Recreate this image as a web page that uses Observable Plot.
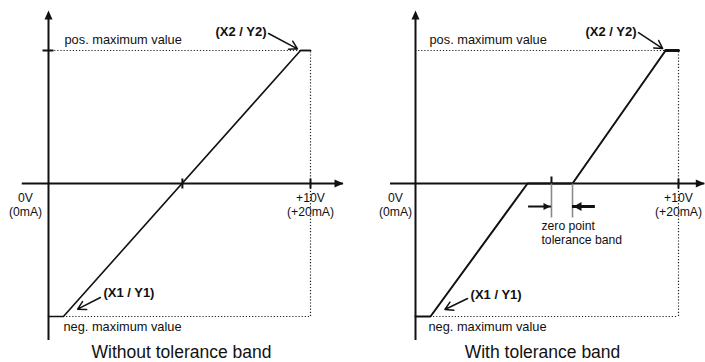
<!DOCTYPE html>
<html><head><meta charset="utf-8">
<script src="https://cdn.jsdelivr.net/npm/d3@7"></script>
<script src="https://cdn.jsdelivr.net/npm/@observablehq/plot@0.6"></script>
<style>
body{margin:0;background:#fff;}
#wrap{display:flex;width:705px;height:362px;overflow:hidden;}
#wrap svg{overflow:visible;display:block;}
</style></head><body><div id="wrap"></div>
<script>
// ---- data (x: input in V, 0..10 V; y: output, -1 = neg. max value, +1 = pos. max value)
const panelTitles = ["Without tolerance band", "With tolerance band"];
const curveWithoutX = [0, 0.57, 9.62, 10];
const curveWithoutY = [-1, -1, 1, 1];
const curveWithX = [0, 0.57, 4.26, 5.97, 9.51, 10];
const curveWithY = [-1, -1, 0, 0, 1, 1];
const zeroPointWithout = [5.11];
const toleranceBand = [5.17, 5.97];
const fullScale = [10];
const levelLabels = ["pos. maximum value", "neg. maximum value"];
const pointLabels = ["(X1 / Y1)", "(X2 / Y2)"];
const xEndLabels = ["0V\n(0mA)", "+10V\n(+20mA)"];
const bandLabel = ["zero point\ntolerance band"];

// ---- annotation anchors (data units)
const axisXWithout = [-1, 11.26], axisXWith = [-0.95, 11.0], axisY = [-1.18, 1.3];
const labelStartWithout = {x1: [1.98, -0.857], x2: [8.40, 1.128]};
const labelStartWith = {x1: [1.98, -0.865], x2: [8.48, 1.135]};
const bandArrowY = -0.173, bandArrowFrom = [4.30, 6.84];

// ---- custom marker shapes (pixel geometry)
const sym = (f) => ({draw(c) { f(c); }});
const headUp = sym(c => {c.moveTo(0, 0); c.lineTo(4, 9); c.lineTo(-4, 9); c.closePath();});
const headRight = sym(c => {c.moveTo(0, 0); c.lineTo(-9, -4); c.lineTo(-9, 4); c.closePath();});
const smallRight = sym(c => {c.moveTo(0, 0); c.lineTo(-7, -3.5); c.lineTo(-7, 3.5); c.closePath();});
const bigLeft = sym(c => {c.moveTo(0, 0); c.lineTo(8, -4.5); c.lineTo(8, 4.5); c.closePath();});
const vTick = sym(c => {c.moveTo(0, -5); c.lineTo(0, 5);});
const vTickUp = sym(c => {c.moveTo(0, -7); c.lineTo(0, 1);});
const hTick = sym(c => {c.moveTo(-6, 0); c.lineTo(5, 0);});
const bandLine = sym(c => {c.moveTo(0, 0); c.lineTo(0, 34);});

const FONT = "'Liberation Sans', Arial, Helvetica, sans-serif";
const dotted = {stroke: "#222", strokeWidth: 1.2, strokeDasharray: "1.2,1.9"};
const ink = "#111";

function panel(o) {
  const curve = o.curveX.map((x, i) => ({x, y: o.curveY[i]}));
  const n = o.curveX.length;
  const X1 = o.curveX[1], X2 = o.curveX[n - 2];
  const marks = [
    // dotted guides
    Plot.ruleY([1], {x1: 0, x2: X2, ...dotted}),
    Plot.ruleY([-1], {x1: X1, x2: fullScale[0], ...dotted}),
    Plot.ruleX(fullScale, {y1: -1, y2: 1, ...dotted}),
    // axes
    Plot.ruleY([0], {x1: o.axisX[0], x2: o.axisX[1], stroke: ink, strokeWidth: 2}),
    Plot.ruleX([0], {y1: axisY[0], y2: axisY[1] - 0.04, stroke: ink, strokeWidth: 2}),
    Plot.dot([o.axisX[1]], {x: d => d, y: 0, symbol: headRight, fill: ink, stroke: "none"}),
    Plot.dot([axisY[1]], {x: 0, y: d => d, symbol: headUp, fill: ink, stroke: "none"}),
    // ticks
    Plot.dot(fullScale, {x: d => d, y: 0, symbol: vTick, stroke: ink, strokeWidth: 2, fill: "none"}),
    // curve
    Plot.line(curve, {x: "x", y: "y", stroke: ink, strokeWidth: o.lw}),
    Plot.line(curve.slice(n - 2), {x: "x", y: "y", stroke: ink, strokeWidth: o.topLw}),
    // level labels
    Plot.text([levelLabels[0]], {x: 0, y: 1, dx: o.labelDx + 1, dy: -7, textAnchor: "start", lineAnchor: "bottom", fontSize: 12.8, fill: ink}),
    Plot.text([levelLabels[1]], {x: 0, y: -1, dx: o.labelDx, dy: 14, textAnchor: "start", lineAnchor: "bottom", fontSize: 12.8, fill: ink}),
    // axis end labels
    Plot.text([xEndLabels[0]], {x: 0, y: 0, dx: o.zeroDx, dy: 8.5, lineAnchor: "top", lineHeight: 1.17, fontSize: 12.2, fill: ink}),
    Plot.text([xEndLabels[1]], {x: fullScale[0], y: 0, dx: 0, dy: 8.5, lineAnchor: "top", lineHeight: 1.17, fontSize: 12.2, fill: ink}),
    // point annotations
    Plot.arrow([0], {x1: o.ls.x1[0], y1: o.ls.x1[1], x2: X1, y2: -1, insetEnd: 16, headLength: 9, stroke: ink, strokeWidth: 1.5}),
    Plot.arrow([0], {x1: o.ls.x2[0], y1: o.ls.x2[1], x2: X2, y2: 1, insetEnd: 3.5, headLength: 9, stroke: ink, strokeWidth: 1.5}),
    Plot.text([pointLabels[0]], {x: o.ls.x1[0], y: o.ls.x1[1], dx: 3, dy: 0, textAnchor: "start", lineAnchor: "bottom", fontSize: 13, fontWeight: "bold", fill: ink}),
    Plot.text([pointLabels[1]], {x: o.ls.x2[0], y: o.ls.x2[1], dx: -2, dy: 3, textAnchor: "end", lineAnchor: "bottom", fontSize: 13, fontWeight: "bold", fill: ink}),
    // caption
    Plot.text([o.title], {frameAnchor: "bottom", dx: o.capDx, dy: 41, lineAnchor: "bottom", fontSize: 17.5, fill: ink})
  ];
  if (o.yTick) marks.push(Plot.dot([1], {x: 0, y: d => d, symbol: hTick, stroke: ink, strokeWidth: 2, fill: "none"}));
  if (o.zeroTicks) marks.push(Plot.dot(o.zeroTicks, {x: d => d, y: 0, symbol: vTick, stroke: ink, strokeWidth: 2, fill: "none"}));
  if (o.band) {
    marks.push(
      Plot.dot([o.band[0]], {x: d => d, y: 0, symbol: vTickUp, stroke: ink, strokeWidth: 2, fill: "none"}),
      Plot.dot(o.band, {x: d => d, y: 0, symbol: bandLine, stroke: "#8a8a8a", strokeWidth: 1.6, fill: "none"}),
      Plot.ruleY([bandArrowY], {x1: bandArrowFrom[0], x2: o.band[0], stroke: ink, strokeWidth: 2}),
      Plot.ruleY([bandArrowY], {x1: o.band[1], x2: bandArrowFrom[1], stroke: ink, strokeWidth: 3}),
      Plot.dot([o.band[0]], {x: d => d, y: bandArrowY, dx: -1, symbol: smallRight, fill: ink, stroke: "none"}),
      Plot.dot([o.band[1]], {x: d => d, y: bandArrowY, dx: 1, symbol: bigLeft, fill: ink, stroke: "none"}),
      Plot.text(bandLabel, {x: o.band[0], y: bandArrowY, dx: -10, dy: 13, textAnchor: "start", lineAnchor: "top", lineHeight: 1.17, fontSize: 12.2, fill: ink})
    );
  }
  return Plot.plot({
    width: o.width, height: 362,
    marginLeft: o.marginLeft, marginRight: o.marginRight, marginTop: 50, marginBottom: 46,
    x: {domain: [0, 10], axis: null, inset: 0},
    y: {domain: [-1, 1], axis: null, inset: 0},
    style: {fontFamily: FONT, fontSize: "12px", background: "white", color: ink, overflow: "visible"},
    marks
  });
}

const wrap = document.getElementById("wrap");
wrap.append(panel({
  title: panelTitles[0], width: 355, marginLeft: 48, marginRight: 45,
  curveX: curveWithoutX, curveY: curveWithoutY, axisX: axisXWithout, ls: labelStartWithout,
  zeroTicks: zeroPointWithout, yTick: true, labelDx: 15, zeroDx: -23, capDx: 2, lw: 1.6, topLw: 1.6
}));
wrap.append(panel({
  title: panelTitles[1], width: 350, marginLeft: 60, marginRight: 27,
  curveX: curveWithX, curveY: curveWithY, axisX: axisXWith, ls: labelStartWith,
  band: toleranceBand, yTick: false, labelDx: 13, zeroDx: -20, capDx: -4.5, lw: 2, topLw: 3
}));
</script></body></html>
